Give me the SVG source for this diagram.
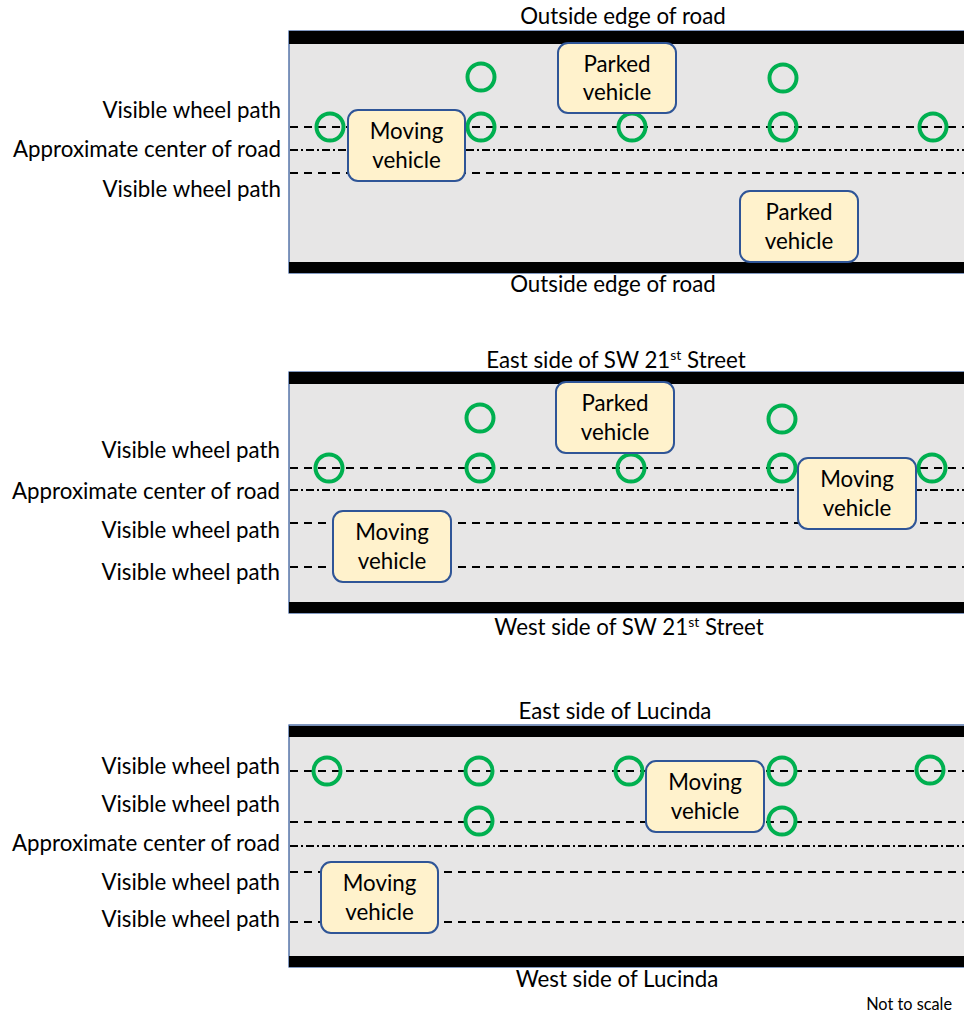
<svg xmlns="http://www.w3.org/2000/svg" width="964" height="1016" viewBox="0 0 964 1016">
<style>
  text { font-family: Lato, "Liberation Sans", sans-serif; font-size: 22.3px; fill: #000; }
  .lbl { text-anchor: end; }
  .ctr { text-anchor: middle; }
  .road { fill: #e7e6e6; stroke: #2f5597; stroke-width: 1.2; }
  .bar { fill: #000; }
  .dash { stroke: #000; stroke-width: 2; stroke-dasharray: 8 6; fill: none; }
  .dashdot { stroke: #000; stroke-width: 2; stroke-dasharray: 8 3 2 3; fill: none; }
  .veh rect { fill: #fff2cc; stroke: #2f5597; stroke-width: 2; }
  .veh text { text-anchor: middle; }
  .pt { fill: none; stroke: #00b050; stroke-width: 4; }
  .note { font-size: 16.3px; text-anchor: end; }
  .sup { font-size: 14px; }
</style>

<!-- Panel 1 -->
<g id="panel1">
  <rect class="road" x="289" y="31" width="680" height="242"/>
  <rect class="bar" x="289" y="31" width="680" height="13"/>
  <rect class="bar" x="289" y="262" width="680" height="11"/>
  <text class="ctr" x="623" y="24">Outside edge of road</text>
  <text class="ctr" x="613" y="292">Outside edge of road</text>
  <text class="lbl" x="281" y="118">Visible wheel path</text>
  <text class="lbl" x="281" y="157">Approximate center of road</text>
  <text class="lbl" x="281" y="197">Visible wheel path</text>
</g>
<g id="connectors1">
  <line class="dash" x1="290" y1="127" x2="964" y2="127"/>
  <line class="dashdot" x1="290" y1="150" x2="964" y2="150"/>
  <line class="dash" x1="290" y1="173" x2="964" y2="173"/>
</g>
<g id="points1">
  <circle class="pt" cx="481" cy="77" r="13.5"/>
  <circle class="pt" cx="330" cy="127" r="13.5"/>
  <circle class="pt" cx="481" cy="127" r="13.5"/>
  <circle class="pt" cx="632" cy="127" r="13.5"/>
  <circle class="pt" cx="783" cy="78" r="13.5"/>
  <circle class="pt" cx="783" cy="127" r="13.5"/>
  <circle class="pt" cx="933" cy="127" r="13.5"/>
</g>
<g id="p1-moving" class="veh">
  <rect x="348" y="110" width="117" height="71" rx="10"/>
  <text x="406.5" y="139">Moving</text>
  <text x="406.5" y="168">vehicle</text>
</g>
<g id="p1-parked-top" class="veh">
  <rect x="558" y="43" width="118" height="70" rx="10"/>
  <text x="617" y="72">Parked</text>
  <text x="617" y="100">vehicle</text>
</g>
<g id="p1-parked-bottom" class="veh">
  <rect x="740" y="191" width="118" height="71" rx="10"/>
  <text x="799" y="220">Parked</text>
  <text x="799" y="249">vehicle</text>
</g>

<!-- Panel 2 -->
<g id="panel2">
  <rect class="road" x="289" y="372" width="680" height="241"/>
  <rect class="bar" x="289" y="372" width="680" height="12"/>
  <rect class="bar" x="289" y="602" width="680" height="11"/>
  <text class="ctr" x="616" y="368">East side of SW 21<tspan class="sup" dy="-8">st</tspan><tspan dy="8"> Street</tspan></text>
  <text class="ctr" x="629" y="635">West side of SW 21<tspan class="sup" dy="-8">st</tspan><tspan dy="8"> Street</tspan></text>
  <text class="lbl" x="280" y="458">Visible wheel path</text>
  <text class="lbl" x="280" y="499">Approximate center of road</text>
  <text class="lbl" x="280" y="538">Visible wheel path</text>
  <text class="lbl" x="280" y="580">Visible wheel path</text>
</g>
<g id="connectors2">
  <line class="dash" x1="290" y1="468" x2="964" y2="468"/>
  <line class="dashdot" x1="290" y1="490" x2="964" y2="490"/>
  <line class="dash" x1="290" y1="523" x2="964" y2="523"/>
  <line class="dash" x1="290" y1="567" x2="964" y2="567"/>
</g>
<g id="points2">
  <circle class="pt" cx="480" cy="418" r="13.5"/>
  <circle class="pt" cx="329" cy="468" r="13.5"/>
  <circle class="pt" cx="480" cy="468" r="13.5"/>
  <circle class="pt" cx="631" cy="468" r="13.5"/>
  <circle class="pt" cx="782" cy="419" r="13.5"/>
  <circle class="pt" cx="782" cy="468" r="13.5"/>
  <circle class="pt" cx="932" cy="468" r="13.5"/>
</g>
<g id="p2-parked" class="veh">
  <rect x="556" y="382" width="118" height="71" rx="10"/>
  <text x="615" y="411">Parked</text>
  <text x="615" y="440">vehicle</text>
</g>
<g id="p2-moving-right" class="veh">
  <rect x="798" y="458" width="118" height="71" rx="10"/>
  <text x="857" y="487">Moving</text>
  <text x="857" y="516">vehicle</text>
</g>
<g id="p2-moving-left" class="veh">
  <rect x="333" y="511" width="118" height="71" rx="10"/>
  <text x="392" y="540">Moving</text>
  <text x="392" y="569">vehicle</text>
</g>

<!-- Panel 3 -->
<g id="panel3">
  <rect class="road" x="289" y="725" width="680" height="242"/>
  <rect class="bar" x="289" y="726" width="680" height="11"/>
  <rect class="bar" x="289" y="956" width="680" height="11"/>
  <text class="ctr" x="615" y="719">East side of Lucinda</text>
  <text class="ctr" x="617" y="987">West side of Lucinda</text>
  <text class="lbl" x="280" y="774">Visible wheel path</text>
  <text class="lbl" x="280" y="812">Visible wheel path</text>
  <text class="lbl" x="280" y="851">Approximate center of road</text>
  <text class="lbl" x="280" y="890">Visible wheel path</text>
  <text class="lbl" x="280" y="927">Visible wheel path</text>
  <text class="note" x="952" y="1010">Not to scale</text>
</g>
<g id="connectors3">
  <line class="dash" x1="290" y1="771" x2="964" y2="771"/>
  <line class="dash" x1="290" y1="822" x2="964" y2="822"/>
  <line class="dashdot" x1="290" y1="846" x2="964" y2="846"/>
  <line class="dash" x1="290" y1="872" x2="964" y2="872"/>
  <line class="dash" x1="290" y1="922" x2="964" y2="922"/>
</g>
<g id="points3">
  <circle class="pt" cx="327" cy="771" r="13.5"/>
  <circle class="pt" cx="479" cy="771" r="13.5"/>
  <circle class="pt" cx="479" cy="821" r="13.5"/>
  <circle class="pt" cx="629" cy="771" r="13.5"/>
  <circle class="pt" cx="782" cy="771" r="13.5"/>
  <circle class="pt" cx="782" cy="821" r="13.5"/>
  <circle class="pt" cx="930" cy="770" r="13.5"/>
</g>
<g id="p3-moving-right" class="veh">
  <rect x="646" y="761" width="118" height="71" rx="10"/>
  <text x="705" y="790">Moving</text>
  <text x="705" y="819">vehicle</text>
</g>
<g id="p3-moving-left" class="veh">
  <rect x="321" y="862" width="117" height="71" rx="10"/>
  <text x="379.5" y="891">Moving</text>
  <text x="379.5" y="920">vehicle</text>
</g>
</svg>
